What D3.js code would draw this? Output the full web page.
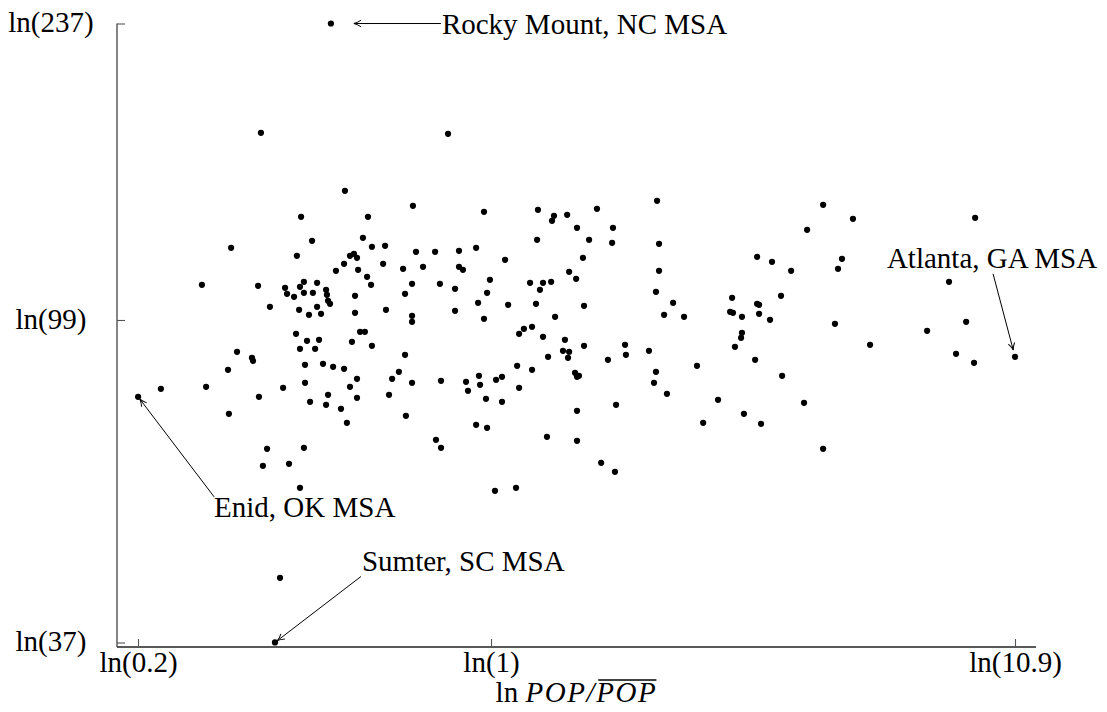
<!DOCTYPE html>
<html><head><meta charset="utf-8">
<script src="https://cdn.jsdelivr.net/npm/d3@7"></script>
<style>
body{margin:0;background:#fff}
svg{display:block}
text{font-family:"Liberation Serif","Times New Roman",serif;fill:#000}
</style>
</head><body>
<svg id="c" width="1107" height="712"></svg>
<script>
// x: ln(POP / mean POP), y: ln(value)
const lnPop = [
  -1.049,-0.666,-0.356,-0.866,-0.561,-0.816,-1.185,-0.584,-0.543,-0.483,
  -0.885,-0.643,-0.625,-0.611,-0.670,-0.707,-0.606,-0.492,-0.342,-0.401,
  -0.310,-0.565,-0.547,-1.318,-1.062,-0.939,-0.930,-0.898,-0.871,-0.853,
  -0.853,-0.812,-0.793,-0.752,-0.748,-0.743,-0.734,-0.620,-0.360,-0.392,
  -1.008,-0.875,-0.830,-0.793,-0.775,-0.620,-0.479,-0.360,-0.360,-0.889,
  -0.839,-0.784,-0.871,-0.802,-0.597,-0.575,-0.634,-0.543,-1.158,-1.090,
  -1.085,-1.199,-0.848,-0.766,-0.720,-0.670,-0.392,-0.611,-0.451,-0.420,
  -0.360,-0.848,-0.643,-1.299,-1.505,-0.948,
  -1.195,-1.058,-0.825,-0.743,-0.752,-0.684,-0.657,-0.611,-0.465,-0.388,
  -1.021,-0.853,-1.040,-0.921,-0.871,-0.962,
  -0.196,0.757,-0.032,0.214,0.483,0.347,0.287,0.278,0.392,0.556,
  0.210,0.447,0.552,0.766,-0.255,-0.146,-0.068,0.064,0.419,-0.146,
  -0.128,0.356,0.766,0.388,-0.005,-0.233,0.178,0.237,0.274,0.223,
  -0.164,-0.018,0.752,-0.059,0.078,0.205,0.424,0.830,0.789,0.880,
  -0.164,-0.032,0.292,0.128,0.150,0.187,0.237,0.337,0.328,0.356,
  0.351,0.260,0.424,0.611,0.615,0.533,0.720,0.119,0.187,0.383,
  0.401,0.392,0.752,0.939,-0.228,-0.114,-0.055,-0.050,0.023,0.050,
  0.128,0.743,-0.105,
  -0.023,0.050,-0.068,-0.018,-0.251,-0.228,0.255,0.392,0.392,0.570,
  0.802,1.035,0.967,0.502,0.565,0.018,0.114,
  1.514,1.650,1.441,2.207,1.213,1.281,1.368,1.600,1.582,2.088,
  1.099,1.213,1.222,1.322,1.090,1.103,1.144,1.222,1.272,1.568,
  1.144,1.140,1.112,1.988,2.166,1.728,1.204,2.120,2.202,1.327,
  1.427,1.153,1.231,1.514
];
const lnVal = [
  5.140,4.966,4.921,4.888,4.888,4.816,4.795,4.825,4.798,4.801,
  4.771,4.771,4.777,4.765,4.747,4.726,4.729,4.747,4.783,4.732,
  4.738,4.708,4.684,4.684,4.681,4.675,4.657,4.648,4.678,4.693,
  4.660,4.660,4.690,4.669,4.654,4.636,4.627,4.651,4.687,4.657,
  4.618,4.609,4.594,4.618,4.597,4.600,4.609,4.591,4.573,4.537,
  4.516,4.519,4.492,4.492,4.543,4.543,4.513,4.501,4.483,4.465,
  4.456,4.429,4.444,4.447,4.438,4.432,4.474,4.402,4.402,4.423,
  4.390,4.390,4.378,4.378,4.372,4.375,
  4.297,4.348,4.333,4.354,4.324,4.312,4.270,4.345,4.354,4.291,
  4.192,4.195,4.141,4.147,4.075,3.805,
  5.137,4.936,4.903,4.909,4.912,4.894,4.891,4.876,4.855,4.855,
  4.819,4.819,4.810,4.807,4.783,4.786,4.795,4.759,4.765,4.738,
  4.729,4.723,4.726,4.702,4.699,4.687,4.690,4.690,4.693,4.669,
  4.672,4.660,4.663,4.630,4.624,4.627,4.621,4.630,4.594,4.588,
  4.606,4.582,4.588,4.537,4.552,4.558,4.528,4.519,4.486,4.483,
  4.465,4.468,4.501,4.504,4.474,4.459,4.486,4.441,4.429,4.420,
  4.411,4.408,4.423,4.441,4.396,4.393,4.411,4.384,4.399,4.408,
  4.375,4.390,4.366,
  4.342,4.333,4.264,4.255,4.219,4.195,4.228,4.216,4.306,4.324,
  4.357,4.339,4.270,4.150,4.123,4.066,4.075,
  4.924,4.882,4.849,4.885,4.768,4.753,4.726,4.762,4.732,4.693,
  4.645,4.627,4.624,4.651,4.603,4.600,4.588,4.597,4.579,4.567,
  4.540,4.525,4.498,4.546,4.573,4.504,4.459,4.477,4.450,4.411,
  4.330,4.297,4.267,4.192
];
// annotated MSAs
const annotNames = ["Rocky Mount, NC MSA", "Atlanta, GA MSA", "Enid, OK MSA", "Sumter, SC MSA"];
const annotLnPop = [-0.730, 2.389, -1.609, -0.985];
const annotLnVal = [5.468, 4.468, 4.348, 3.611];
// ticks
const xTickValues = [Math.log(0.2), Math.log(1), Math.log(10.9)];
const xTickLabels = ["ln(0.2)", "ln(1)", "ln(10.9)"];
const yTickValues = [Math.log(37), 4.5785, Math.log(237)];
const yTickLabels = ["ln(37)", "ln(99)", "ln(237)"];

const FS = 29;
const svg = d3.select("#c");
const x = d3.scaleLinear().domain([Math.log(0.2), Math.log(10.9)]).range([138, 1015]);
const y = d3.scaleLinear().domain([Math.log(37), Math.log(237)]).range([642.5, 23.5]);

const axLeftX = 117, axBottomY = 647;

// axis lines
svg.append("line").attr("x1", axLeftX).attr("x2", axLeftX)
  .attr("y1", y.range()[1]).attr("y2", axBottomY)
  .attr("stroke", "#444").attr("stroke-width", 1.3);
svg.append("line").attr("x1", axLeftX).attr("x2", x.range()[1] + 21)
  .attr("y1", axBottomY).attr("y2", axBottomY)
  .attr("stroke", "#222").attr("stroke-width", 1.3);

// bottom axis
const gx = svg.append("g").attr("transform", `translate(0,${axBottomY})`)
  .call(d3.axisBottom(x).tickValues(xTickValues).tickFormat((d, i) => xTickLabels[i])
    .tickSize(-8).tickSizeOuter(0).tickPadding(4));
gx.select(".domain").remove();
gx.selectAll(".tick line").attr("stroke", "#555").attr("stroke-width", 1.1);
gx.selectAll(".tick text").attr("font-size", FS).attr("font-family", "Liberation Serif").attr("fill", "#000");

// left axis
const gy = svg.append("g").attr("transform", `translate(${axLeftX},0)`)
  .call(d3.axisLeft(y).tickValues(yTickValues).tickFormat((d, i) => yTickLabels[i])
    .tickSize(-8).tickSizeOuter(0));
gy.select(".domain").remove();
gy.selectAll(".tick line").attr("stroke", "#555").attr("stroke-width", 1.1);
gy.selectAll(".tick text").attr("font-size", FS).attr("font-family", "Liberation Serif").attr("fill", "#000")
  .attr("text-anchor", "middle").attr("x", -66).attr("dy", "0.28em");

// points
svg.append("g").selectAll("circle").data(lnPop.map((v, i) => [v, lnVal[i]]))
  .join("circle").attr("cx", d => x(d[0])).attr("cy", d => y(d[1])).attr("r", 3.1).attr("fill", "#000");
svg.append("g").selectAll("circle").data(annotNames.map((n, i) => [annotLnPop[i], annotLnVal[i]]))
  .join("circle").attr("cx", d => x(d[0])).attr("cy", d => y(d[1])).attr("r", 3.1).attr("fill", "#000");

// arrow marker
svg.append("defs").append("marker").attr("id", "ah")
  .attr("viewBox", "-10 -6 12 12").attr("refX", 0).attr("refY", 0)
  .attr("markerWidth", 12).attr("markerHeight", 12).attr("markerUnits", "userSpaceOnUse")
  .attr("orient", "auto")
  .append("path").attr("d", "M-7,-3.2 Q-3,-0.6 0,0 Q-3,0.6 -7,3.2")
  .attr("fill", "none").attr("stroke", "#000").attr("stroke-width", 1);

// annotation layout (pixel offsets from the annotated point)
const annotLayout = [
  {anchor: "start", tdx: 111, tdy: 10, adx: 110, ady: 0, gap: 23},
  {anchor: "middle", tdx: -23, tdy: -89, adx: -22, ady: -83, gap: 7},
  {anchor: "start", tdx: 76, tdy: 120, adx: 76, ady: 100, gap: 3},
  {anchor: "start", tdx: 87, tdy: -71, adx: 86, ady: -66, gap: 3}
];
annotNames.forEach((name, i) => {
  const px = x(annotLnPop[i]), py = y(annotLnVal[i]);
  const L = annotLayout[i];
  const sx = px + L.adx, sy = py + L.ady;
  const dx = sx - px, dy = sy - py, len = Math.hypot(dx, dy);
  const ex = px + dx / len * L.gap, ey = py + dy / len * L.gap;
  svg.append("line").attr("x1", sx).attr("y1", sy).attr("x2", ex).attr("y2", ey)
    .attr("stroke", "#000").attr("stroke-width", 1).attr("marker-end", "url(#ah)");
  svg.append("text").attr("x", px + L.tdx).attr("y", py + L.tdy)
    .attr("text-anchor", L.anchor).attr("font-size", FS).text(name);
});

// x axis title: ln POP / overline(POP)
const title = svg.append("text").attr("font-size", FS).attr("y", 702);
title.append("tspan").text("ln ");
title.append("tspan").attr("font-style", "italic").attr("letter-spacing", 1.6).text("POP/POP");
const tw = title.node().getComputedTextLength();
title.attr("x", 576.5 - tw / 2);
const n = title.node();
const e1 = n.getExtentOfChar(7), e2 = n.getExtentOfChar(9);
svg.append("line").attr("x1", e1.x + 2).attr("x2", e2.x + e2.width - 1)
  .attr("y1", 702 - 22).attr("y2", 702 - 22).attr("stroke", "#000").attr("stroke-width", 1.3);
</script>
</body></html>
